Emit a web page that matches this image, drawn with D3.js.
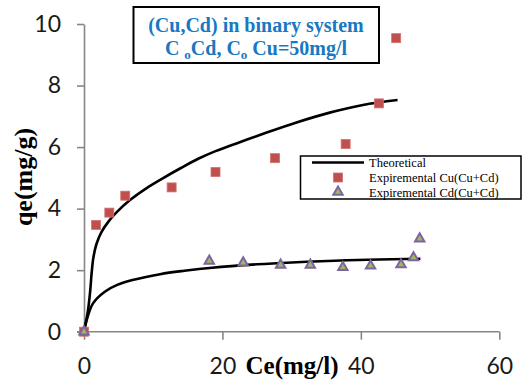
<!DOCTYPE html>
<html>
<head>
<meta charset="utf-8">
<script src="https://cdn.jsdelivr.net/npm/d3@7/dist/d3.min.js"></script>
<style>
  html, body { margin: 0; padding: 0; background: #fff; }
  svg { display: block; }
</style>
</head>
<body>
<div id="chart"></div>
<script>
// ---- Data ----
const xTicks = [0, 20, 40, 60];
const yTicks = [0, 2, 4, 6, 8, 10];

// Experimental Cu (Cu+Cd): [Ce, qe]
const cuExpX = [0, 1.75, 3.66, 5.96, 12.66, 19.0, 27.6, 37.8, 42.6, 45.1];
const cuExpY = [0, 3.47, 3.87, 4.42, 4.69, 5.19, 5.64, 6.10, 7.42, 9.54];

// Experimental Cd (Cu+Cd)
const cdExpX = [0, 18.1, 23.0, 28.4, 32.7, 37.4, 41.4, 45.8, 47.6, 48.5];
const cdExpY = [0, 2.30, 2.24, 2.17, 2.17, 2.09, 2.14, 2.18, 2.41, 3.02];

// Theoretical curve for Cu
const cuTheoX = [0, 0.58, 0.91, 1.1, 1.35, 1.8, 2.5, 3.5, 4.8, 6.6, 9.0, 11.5, 14.0, 16.5, 19.0, 22.5, 26.0, 30.7, 35.5, 40.3, 45.3];
const cuTheoY = [0, 0.70, 1.36, 1.90, 2.40, 2.85, 3.23, 3.57, 3.90, 4.27, 4.66, 5.00, 5.32, 5.62, 5.87, 6.16, 6.44, 6.80, 7.12, 7.37, 7.53];

// Theoretical curve for Cd
const cdTheoX = [0, 0.33, 1.3, 3.0, 4.8, 7.0, 11.0, 14.5, 18.5, 25.0, 30.0, 38.0, 48.6];
const cdTheoY = [0, 0.33, 0.92, 1.30, 1.52, 1.68, 1.87, 1.98, 2.08, 2.19, 2.25, 2.32, 2.37];

const legendLabels = ["Theoretical", "Expiremental Cu(Cu+Cd)", "Expiremental Cd(Cu+Cd)"];

// ---- Layout ----
const W = 522, H = 381;
const svg = d3.select("#chart").append("svg").attr("width", W).attr("height", H);

const x = d3.scaleLinear().domain([0, 60]).range([84, 499.3]);
const y = d3.scaleLinear().domain([0, 10]).range([331.7, 24]);

const axisColor = "#868686";
const labelFont = "Lato, 'Open Sans', sans-serif";
const serif = "'Liberation Serif', 'Times New Roman', serif";

// Y axis
const gy = svg.append("g").attr("transform", `translate(${x(0)},0)`)
  .call(d3.axisLeft(y).tickValues(yTicks).tickSize(7).tickSizeOuter(0).tickPadding(16));
gy.select(".domain").attr("stroke", axisColor).attr("stroke-width", 1.6);
gy.selectAll(".tick line").attr("stroke", axisColor).attr("stroke-width", 1.6);
gy.selectAll(".tick text").attr("font-family", labelFont).attr("font-size", 23).attr("fill", "#1a1a1a");

// X axis
const gx = svg.append("g").attr("transform", `translate(0,${y(0)})`)
  .call(d3.axisBottom(x).tickValues(xTicks).tickSize(8).tickSizeOuter(0).tickPadding(18));
gx.select(".domain").attr("stroke", axisColor).attr("stroke-width", 1.6)
  .attr("d", `M${x(0) - 7},0H${x(60)}`);
gx.selectAll(".tick line").attr("stroke", axisColor).attr("stroke-width", 1.6);
gx.selectAll(".tick text").attr("font-family", labelFont).attr("font-size", 23).attr("fill", "#1a1a1a");

// Axis titles
svg.append("text")
  .attr("x", 292).attr("y", 374)
  .attr("text-anchor", "middle")
  .attr("font-family", serif).attr("font-weight", "bold").attr("font-size", 25)
  .attr("fill", "#000")
  .text("Ce(mg/l)");

svg.append("text")
  .attr("transform", `translate(32,177) rotate(-90)`)
  .attr("text-anchor", "middle")
  .attr("font-family", serif).attr("font-weight", "bold").attr("font-size", 26)
  .attr("fill", "#000")
  .text("qe(mg/g)");

// Theoretical curves
const line = d3.line().x(d => x(d[0])).y(d => y(d[1])).curve(d3.curveCatmullRom.alpha(0.5));
const cuTheo = cuTheoX.map((v, i) => [v, cuTheoY[i]]);
const cdTheo = cdTheoX.map((v, i) => [v, cdTheoY[i]]);
[cuTheo, cdTheo].forEach(data => {
  svg.append("path").datum(data)
    .attr("d", line)
    .attr("fill", "none").attr("stroke", "#000").attr("stroke-width", 2.6)
    .attr("stroke-linejoin", "round");
});

// Markers
const cuExp = cuExpX.map((v, i) => [v, cuExpY[i]]);
const cdExp = cdExpX.map((v, i) => [v, cdExpY[i]]);
const sq = 9;
svg.append("g").selectAll("rect").data(cuExp).enter().append("rect")
  .attr("x", d => x(d[0]) - sq / 2).attr("y", d => y(d[1]) - sq / 2)
  .attr("width", sq).attr("height", sq)
  .attr("fill", "#C0504D").attr("stroke", "#d2716f").attr("stroke-width", 0.8);

const tri = d3.symbol().type(d3.symbolTriangle).size(38);
svg.append("g").selectAll("path").data(cdExp).enter().append("path")
  .attr("d", tri)
  .attr("transform", d => `translate(${x(d[0])},${y(d[1])})`)
  .attr("fill", "#9BBB59").attr("stroke", "#8064A2").attr("stroke-width", 2);

// Title box
svg.append("rect")
  .attr("x", 133.5).attr("y", 7).attr("width", 245.5).attr("height", 56)
  .attr("fill", "#fff").attr("stroke", "#000").attr("stroke-width", 2);
const titleColor = "#1878C2";
svg.append("text")
  .attr("x", 256).attr("y", 31.5).attr("text-anchor", "middle")
  .attr("font-family", serif).attr("font-weight", "bold").attr("font-size", 20)
  .attr("fill", titleColor)
  .text("(Cu,Cd) in binary system");
const t2 = svg.append("text")
  .attr("x", 256).attr("y", 55).attr("text-anchor", "middle")
  .attr("font-family", serif).attr("font-weight", "bold").attr("font-size", 20)
  .attr("fill", titleColor);
t2.append("tspan").text("C ");
t2.append("tspan").attr("font-size", 13).attr("dy", 4).text("o");
t2.append("tspan").attr("dy", -4).text("Cd, C");
t2.append("tspan").attr("font-size", 13).attr("dy", 4).text("o");
t2.append("tspan").attr("dy", -4).text(" Cu=50mg/l");

// Legend
const lg = svg.append("g");
lg.append("rect")
  .attr("x", 300.5).attr("y", 156).attr("width", 220.5).attr("height", 43)
  .attr("fill", "#fff").attr("stroke", "#000").attr("stroke-width", 1.5);
const rowsY = [162.5, 177.5, 192];
lg.append("line").attr("x1", 312).attr("x2", 364).attr("y1", rowsY[0]).attr("y2", rowsY[0])
  .attr("stroke", "#000").attr("stroke-width", 2.6);
lg.append("rect").attr("x", 338 - sq / 2).attr("y", rowsY[1] - sq / 2).attr("width", sq).attr("height", sq)
  .attr("fill", "#C0504D").attr("stroke", "#d2716f").attr("stroke-width", 0.8);
lg.append("path").attr("d", tri).attr("transform", `translate(338,${rowsY[2]})`)
  .attr("fill", "#9BBB59").attr("stroke", "#8064A2").attr("stroke-width", 2);
legendLabels.forEach((t, i) => {
  lg.append("text").attr("x", 369).attr("y", rowsY[i] + 4.5)
    .attr("font-family", serif).attr("font-size", 12.5).attr("fill", "#000")
    .text(t);
});
</script>
</body>
</html>
